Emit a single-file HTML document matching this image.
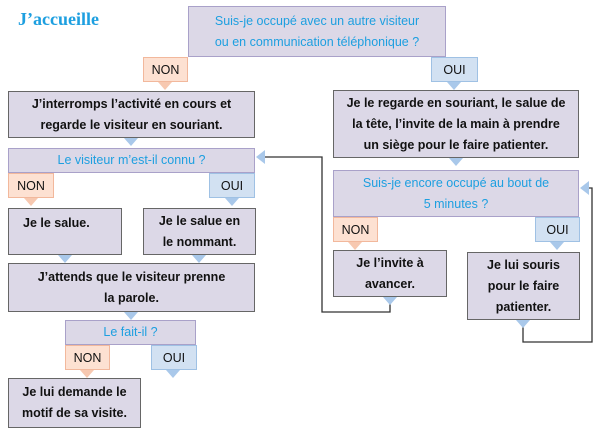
<!DOCTYPE html>
<html><head><meta charset="utf-8"><style>
*{margin:0;padding:0;box-sizing:border-box}
body{width:600px;height:439px;background:#fff;position:relative;overflow:hidden;font-family:"Liberation Sans",sans-serif}
.b{position:absolute;display:flex;align-items:center;justify-content:center;text-align:center;background:#dcd8e7;line-height:21px}
.a{border:1.5px solid #666;font-weight:bold;font-size:12.5px;color:#111}
.q{border:1.5px solid #a9a1c9;color:#1d9fe0;font-size:12.5px}
.n{position:absolute;background:#fde1d2;border:1.5px solid #f2b89c;font-size:12.5px;color:#111;display:flex;align-items:center;justify-content:center}
.o{position:absolute;background:#d2e1f2;border:1.5px solid #9fc1e4;font-size:12.5px;color:#111;display:flex;align-items:center;justify-content:center}
svg{position:absolute;left:0;top:0}
</style></head><body>
<div style="position:absolute;left:18px;top:9px;font-family:'Liberation Serif',serif;font-weight:bold;font-size:18px;color:#1d9fe0">J’accueille</div>

<div class="b q" style="left:188px;top:6px;width:258px;height:51px">Suis-je occupé avec un autre visiteur<br>ou en communication téléphonique ?</div>
<div class="n" style="left:143px;top:57px;width:45px;height:25px">NON</div>
<div class="o" style="left:431px;top:57px;width:47px;height:25px">OUI</div>

<div class="b a" style="left:8px;top:91px;width:247px;height:47px">J’interromps l’activité en cours et<br>regarde le visiteur en souriant.</div>
<div class="b q" style="left:8px;top:148px;width:247px;height:25px">Le visiteur m’est-il connu ?</div>
<div class="n" style="left:8px;top:173px;width:46px;height:25px">NON</div>
<div class="o" style="left:209px;top:173px;width:46px;height:25px">OUI</div>
<div class="b a" style="left:8px;top:208px;width:114px;height:47px;justify-content:flex-start;align-items:flex-start;padding:4px 0 0 14px">Je le salue.</div>
<div class="b a" style="left:143px;top:208px;width:113px;height:47px">Je le salue en<br>le nommant.</div>
<div class="b a" style="left:8px;top:263px;width:247px;height:49px">J’attends que le visiteur prenne<br>la parole.</div>
<div class="b q" style="left:65px;top:320px;width:131px;height:25px">Le fait-il ?</div>
<div class="n" style="left:65px;top:345px;width:45px;height:25px">NON</div>
<div class="o" style="left:151px;top:345px;width:46px;height:25px">OUI</div>
<div class="b a" style="left:8px;top:378px;width:133px;height:50px">Je lui demande le<br>motif de sa visite.</div>

<div class="b a" style="left:333px;top:90px;width:246px;height:68px">Je le regarde en souriant, le salue de<br>la tête, l’invite de la main à prendre<br>un siège pour le faire patienter.</div>
<div class="b q" style="left:333px;top:170px;width:246px;height:47px">Suis-je encore occupé au bout de<br>5 minutes ?</div>
<div class="n" style="left:333px;top:217px;width:45px;height:25px">NON</div>
<div class="o" style="left:535px;top:217px;width:45px;height:25px">OUI</div>
<div class="b a" style="left:333px;top:250px;width:114px;height:47px">Je l’invite à<br>avancer.</div>
<div class="b a" style="left:467px;top:252px;width:113px;height:68px">Je lui souris<br>pour le faire<br>patienter.</div>

<svg width="600" height="439">
<g fill="none" stroke="#333" stroke-width="1.3">
<polyline points="390,297 390,312 322,312 322,157 265,157"/>
<polyline points="523,322 523,342 592,342 592,188 588,188"/>
</g>
<g fill="#f7c8b0">
<polygon points="158,82 172,82 165,90"/>
<polygon points="24,198 38,198 31,206"/>
<polygon points="80,370 94,370 87,378"/>
<polygon points="348,242 362,242 355,250"/>
</g>
<g fill="#a9c8ea">
<polygon points="447,82 461,82 454,90"/>
<polygon points="225,198 239,198 232,206"/>
<polygon points="166,370 180,370 173,378"/>
<polygon points="550,242 564,242 557,250"/>
<polygon points="124,138 138,138 131,146"/>
<polygon points="58,255 72,255 65,263"/>
<polygon points="192,255 206,255 199,263"/>
<polygon points="124,312 138,312 131,320"/>
<polygon points="449,158 463,158 456,166"/>
<polygon points="383,297 397,297 390,305"/>
<polygon points="516,320 530,320 523,328"/>
<polygon points="265,150 265,164 256,157"/>
<polygon points="589,181 589,195 580,188"/>
</g>
</svg>
</body></html>
